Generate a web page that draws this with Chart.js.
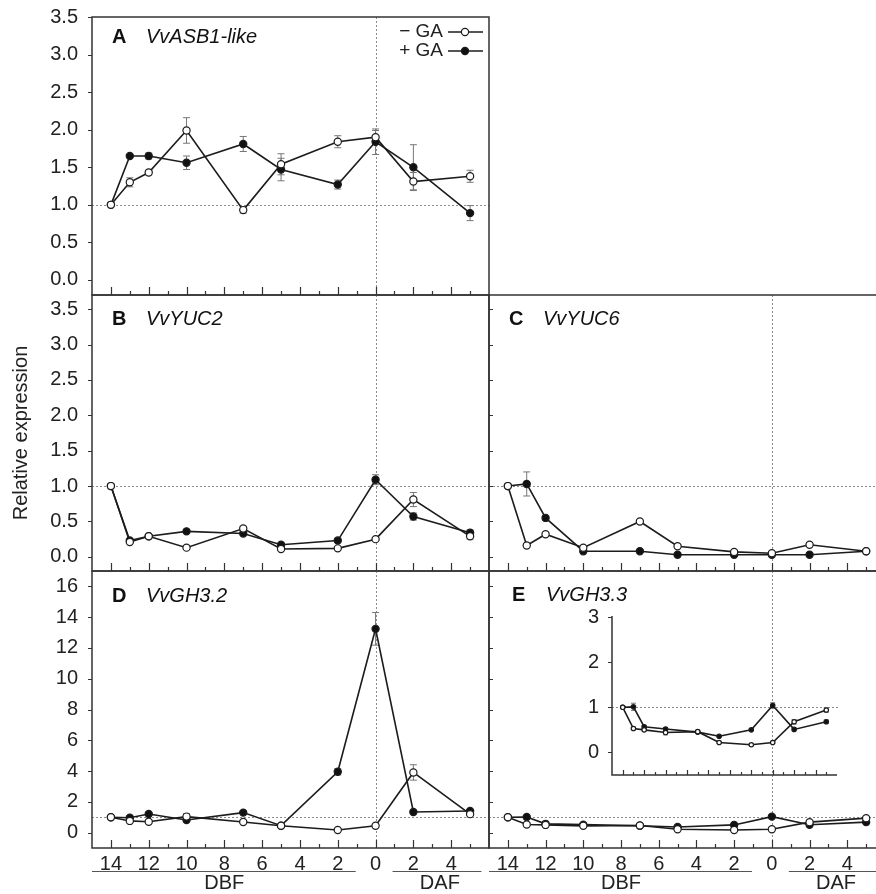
<!DOCTYPE html>
<html>
<head>
<meta charset="utf-8">
<script src="https://cdn.jsdelivr.net/npm/chart.js@4.4.1/dist/chart.umd.min.js"></script>
<style>
  html, body { margin: 0; padding: 0; background: #fff; overflow: hidden; }
  #fig { position: relative; width: 876px; height: 894px; overflow: hidden; }
  canvas { position: absolute; }
</style>
</head>
<body>
<div id="fig">
  <canvas id="cA" width="490" height="297" style="left:0;top:0"></canvas>
  <canvas id="cB" width="490" height="293" style="left:0;top:280px"></canvas>
  <canvas id="cC" width="420" height="293" style="left:475px;top:280px"></canvas>
  <canvas id="cD" width="490" height="339" style="left:0;top:555px"></canvas>
  <canvas id="cE" width="420" height="339" style="left:475px;top:555px"></canvas>
  <canvas id="cInset" width="280" height="176" style="left:560px;top:600px"></canvas>
</div>
<script>
// sampling days (negative = days before flowering)
const days = [-14, -13, -12, -10, -7, -5, -2, 0, 2, 5];
const xTickValues = [-14, -12, -10, -8, -6, -4, -2, 0, 2, 4];
const xTickLabels = ["14", "12", "10", "8", "6", "4", "2", "0", "2", "4"];
const yTicksLow = [0, 0.5, 1, 1.5, 2, 2.5, 3, 3.5];
const yTicksHigh = [0, 2, 4, 6, 8, 10, 12, 14, 16];
const yTicksInset = [0, 1, 2, 3];

// A VvASB1-like
const asb1Minus = [1.0, 1.30, 1.43, 1.99, 0.93, 1.54, 1.84, 1.90, 1.31, 1.38];
const asb1MinusErr = [0, 0.06, 0.03, 0.17, 0.04, 0.14, 0.08, 0.09, 0.12, 0.08];
const asb1Plus = [1.0, 1.65, 1.65, 1.56, 1.81, 1.47, 1.27, 1.84, 1.50, 0.89];
const asb1PlusErr = [0, 0.02, 0.04, 0.09, 0.10, 0.15, 0.06, 0.17, 0.30, 0.10];

// B VvYUC2
const yuc2Minus = [1.0, 0.21, 0.29, 0.13, 0.40, 0.11, 0.12, 0.25, 0.81, 0.29];
const yuc2MinusErr = [0, 0.02, 0.02, 0.02, 0.02, 0.02, 0.02, 0.02, 0.10, 0.04];
const yuc2Plus = [1.0, 0.23, 0.29, 0.36, 0.33, 0.17, 0.23, 1.09, 0.57, 0.34];
const yuc2PlusErr = [0, 0.02, 0.02, 0.03, 0.02, 0.02, 0.02, 0.07, 0.05, 0.04];

// C VvYUC6
const yuc6Minus = [1.0, 0.16, 0.32, 0.13, 0.50, 0.15, 0.07, 0.05, 0.17, 0.08];
const yuc6MinusErr = [0, 0.01, 0.02, 0.01, 0.01, 0.01, 0.01, 0.01, 0.01, 0.01];
const yuc6Plus = [1.0, 1.03, 0.55, 0.08, 0.08, 0.03, 0.03, 0.03, 0.03, 0.08];
const yuc6PlusErr = [0, 0.17, 0.03, 0, 0, 0, 0, 0, 0, 0];

// D VvGH3.2
const gh32Minus = [1.0, 0.76, 0.71, 1.04, 0.69, 0.45, 0.17, 0.45, 3.91, 1.20];
const gh32MinusErr = [0, 0.1, 0.1, 0.2, 0.1, 0.05, 0.05, 0.05, 0.5, 0.2];
const gh32Plus = [1.0, 0.97, 1.21, 0.82, 1.30, 0.45, 3.95, 13.24, 1.34, 1.40];
const gh32PlusErr = [0, 0.1, 0.1, 0.1, 0.1, 0.05, 0.2, 1.06, 0.1, 0.1];

// E VvGH3.3
const gh33Minus = [1.0, 0.53, 0.50, 0.44, 0.46, 0.22, 0.17, 0.22, 0.68, 0.94];
const gh33MinusErr = [0, 0.03, 0.03, 0.05, 0.03, 0.02, 0.02, 0.02, 0.05, 0.05];
const gh33Plus = [1.0, 1.01, 0.57, 0.52, 0.45, 0.36, 0.50, 1.04, 0.51, 0.68];
const gh33PlusErr = [0, 0.08, 0.03, 0.03, 0.02, 0.02, 0.02, 0.06, 0.03, 0.04];

Chart.defaults.font.family = "'Liberation Sans', Arial, Helvetica, sans-serif";
Chart.defaults.color = "#222";

const INK = "#1c1c1c";

const panelDecor = {
  id: "panelDecor",
  beforeDatasetsDraw(chart, args, o) {
    const { ctx, chartArea: a, scales: { x, y } } = chart;
    ctx.save();
    // dotted reference lines
    ctx.strokeStyle = "#8c8c8c";
    ctx.lineWidth = 1;
    ctx.setLineDash([2, 2]);
    ctx.beginPath();
    const y1 = Math.round(y.getPixelForValue(1)) + 0.5;
    ctx.moveTo(a.left, y1);
    ctx.lineTo(a.right + (o.refExtra || 0), y1);
    if (!o.inset) {
      const x0 = Math.round(x.getPixelForValue(0)) + 0.5;
      ctx.moveTo(x0, a.top);
      ctx.lineTo(x0, a.bottom);
    }
    ctx.stroke();
    ctx.setLineDash([]);
    // error bars
    ctx.strokeStyle = "#777";
    ctx.lineWidth = 1;
    chart.data.datasets.forEach((ds, i) => {
      const err = o.errors[i];
      ds.data.forEach((p, j) => {
        if (!err[j]) return;
        const px = x.getPixelForValue(p.x);
        const t = y.getPixelForValue(p.y + err[j]);
        const b = y.getPixelForValue(p.y - err[j]);
        ctx.beginPath();
        ctx.moveTo(px, t); ctx.lineTo(px, b);
        ctx.moveTo(px - o.cap, t); ctx.lineTo(px + o.cap, t);
        ctx.moveTo(px - o.cap, b); ctx.lineTo(px + o.cap, b);
        ctx.stroke();
      });
    });
    ctx.restore();
  },
  afterDraw(chart, args, o) {
    const { ctx, chartArea: a, scales: { x, y } } = chart;
    ctx.save();
    ctx.strokeStyle = "#333";
    ctx.lineWidth = 1.5;
    // frame
    ctx.beginPath();
    if (o.inset) {
      ctx.moveTo(a.left, a.top - 1);
      ctx.lineTo(a.left, a.bottom);
      ctx.lineTo(a.right, a.bottom);
    } else {
      ctx.rect(a.left, a.top, a.right - a.left, a.bottom - a.top);
    }
    ctx.stroke();
    // x ticks, pointing up into the panel
    ctx.lineWidth = 1.2;
    ctx.beginPath();
    for (let d = -14; d <= 5; d++) {
      const px = Math.round(x.getPixelForValue(d)) + 0.5;
      const len = d % 2 === 0 ? o.tickMajor : o.tickMinor;
      ctx.moveTo(px, a.bottom);
      ctx.lineTo(px, a.bottom - len);
    }
    // y ticks
    o.yTicks.forEach(v => {
      const py = Math.round(y.getPixelForValue(v)) + 0.5;
      ctx.moveTo(a.left, py);
      ctx.lineTo(a.left + (o.tickIn ? 4 : -4), py);
    });
    ctx.stroke();
    // panel label
    if (o.letter) {
      ctx.fillStyle = "#111";
      ctx.textBaseline = "middle";
      ctx.textAlign = "left";
      ctx.font = "bold 20px 'Liberation Sans', Arial, sans-serif";
      ctx.fillText(o.letter, a.left + o.labelDx, a.top + o.labelDy);
      ctx.font = "italic 20px 'Liberation Sans', Arial, sans-serif";
      ctx.fillText(o.gene, a.left + o.labelDx + 34, a.top + o.labelDy);
    }
    // legend
    if (o.legend) {
      ctx.font = "19px 'Liberation Sans', Arial, sans-serif";
      ctx.textBaseline = "middle";
      ctx.textAlign = "right";
      const lx = a.right - 46;
      chart.data.datasets.forEach((ds, i) => {
        const ly = a.top + 15 + i * 19;
        ctx.fillStyle = "#222";
        ctx.fillText(ds.label, lx, ly);
        ctx.strokeStyle = INK;
        ctx.lineWidth = 1.5;
        ctx.beginPath();
        ctx.moveTo(lx + 5, ly); ctx.lineTo(lx + 40, ly);
        ctx.stroke();
        ctx.beginPath();
        ctx.arc(lx + 22, ly, 3.6, 0, Math.PI * 2);
        ctx.fillStyle = ds.pointBackgroundColor;
        ctx.fill();
        ctx.lineWidth = 1.2;
        ctx.stroke();
      });
    }
    // DBF / DAF groupings under the axis
    if (o.groups) {
      ctx.strokeStyle = "#555";
      ctx.lineWidth = 1;
      ctx.fillStyle = "#222";
      ctx.font = "20px 'Liberation Sans', Arial, sans-serif";
      ctx.textAlign = "center";
      ctx.textBaseline = "middle";
      o.groups.forEach(g => {
        const x1 = x.getPixelForValue(g.from), x2 = x.getPixelForValue(g.to);
        ctx.beginPath();
        ctx.moveTo(x1, a.bottom + 23.5); ctx.lineTo(x2, a.bottom + 23.5);
        ctx.stroke();
        ctx.fillText(g.text, x.getPixelForValue(g.at), a.bottom + 35);
      });
    }
    ctx.restore();
  }
};

const groups = [
  { text: "DBF", from: -15, to: -1.05, at: -8 },
  { text: "DAF", from: 0.9, to: 5.6, at: 3.4 }
];

function makePanel(id, p) {
  const pt = p.radius || 3.6;
  return new Chart(document.getElementById(id), {
    type: "line",
    data: {
      datasets: [
        {
          label: "\u2212 GA",
          data: days.map((d, i) => ({ x: d, y: p.minus[i] })),
          borderColor: INK,
          borderWidth: p.lineWidth || 1.6,
          pointRadius: pt,
          pointBackgroundColor: "#ffffff",
          pointBorderColor: INK,
          pointBorderWidth: 1.2,
          tension: 0
        },
        {
          label: "+ GA",
          data: days.map((d, i) => ({ x: d, y: p.plus[i] })),
          borderColor: INK,
          borderWidth: p.lineWidth || 1.6,
          pointRadius: pt,
          pointBackgroundColor: "#111111",
          pointBorderColor: INK,
          pointBorderWidth: 1.2,
          tension: 0
        }
      ]
    },
    options: {
      responsive: false,
      animation: false,
      devicePixelRatio: 1,
      events: [],
      layout: { padding: p.padding, autoPadding: false },
      plugins: {
        legend: { display: false },
        tooltip: { enabled: false },
        panelDecor: {
          errors: [p.minusErr, p.plusErr],
          yTicks: p.yTicks,
          tickIn: !p.showY,
          tickMajor: p.inset ? 5 : 8,
          tickMinor: p.inset ? 3 : 4,
          cap: p.inset ? 2.5 : 3.5,
          letter: p.letter,
          gene: p.gene,
          labelDx: p.labelDx || 20,
          labelDy: p.labelDy || 22,
          legend: p.legend,
          groups: p.showX ? groups : null,
          inset: p.inset,
          refExtra: p.inset ? 10 : 0
        }
      },
      scales: {
        x: {
          type: "linear",
          min: -15,
          max: 6,
          display: !!p.showX,
          grid: { display: false, drawTicks: false },
          border: { display: false },
          afterBuildTicks: s => { s.ticks = xTickValues.map(v => ({ value: v })); },
          afterFit: s => {
            if (!p.showX) return;
            s.height = 46; s.paddingLeft = 0; s.paddingRight = 0;
          },
          ticks: {
            autoSkip: false,
            maxRotation: 0,
            padding: 4,
            font: { size: 20 },
            callback: (v, i) => xTickLabels[i]
          }
        },
        y: {
          type: "linear",
          min: p.yMin,
          max: p.yMax,
          display: !!p.showY,
          grid: { display: false, drawTicks: false },
          border: { display: false },
          afterBuildTicks: s => { s.ticks = p.yTicks.map(v => ({ value: v })); },
          afterFit: s => {
            if (!p.showY) return;
            s.width = p.yWidth || 92; s.paddingTop = 0; s.paddingBottom = 0;
          },
          title: {
            display: !!p.yTitle,
            text: p.yTitle || "",
            font: { size: 20 },
            color: "#222",
            padding: { top: 9, bottom: 0 }
          },
          ticks: {
            padding: p.yPad || 14,
            font: { size: 20 },
            callback: v => v.toFixed(p.yDec)
          }
        }
      }
    },
    plugins: [panelDecor]
  });
}

makePanel("cA", {
  minus: asb1Minus, plus: asb1Plus, minusErr: asb1MinusErr, plusErr: asb1PlusErr,
  yMin: -0.2, yMax: 3.5, yTicks: yTicksLow, yDec: 1, showY: true,
  letter: "A", gene: "VvASB1-like", legend: true, labelDy: 20,
  padding: { top: 17, right: 1, bottom: 2, left: 0 }
});
makePanel("cB", {
  minus: yuc2Minus, plus: yuc2Plus, minusErr: yuc2MinusErr, plusErr: yuc2PlusErr,
  yMin: -0.2, yMax: 3.7, yTicks: yTicksLow, yDec: 1, showY: true,
  letter: "B", gene: "VvYUC2", yTitle: "Relative expression", labelDy: 24,
  padding: { top: 15, right: 1, bottom: 2, left: 0 }
});
makePanel("cC", {
  minus: yuc6Minus, plus: yuc6Plus, minusErr: yuc6MinusErr, plusErr: yuc6PlusErr,
  yMin: -0.2, yMax: 3.7, yTicks: yTicksLow, yDec: 1, showY: false,
  letter: "C", gene: "VvYUC6", labelDy: 24,
  padding: { top: 15, right: 10, bottom: 2, left: 14 }
});
makePanel("cD", {
  minus: gh32Minus, plus: gh32Plus, minusErr: gh32MinusErr, plusErr: gh32PlusErr,
  yMin: -1, yMax: 17, yTicks: yTicksHigh, yDec: 0, showY: true, showX: true,
  letter: "D", gene: "VvGH3.2", labelDy: 25,
  padding: { top: 16, right: 1, bottom: 0, left: 0 }
});
makePanel("cE", {
  minus: gh33Minus, plus: gh33Plus, minusErr: gh33MinusErr, plusErr: gh33PlusErr,
  yMin: -1, yMax: 17, yTicks: yTicksHigh, yDec: 0, showY: false, showX: true,
  letter: "E", gene: "VvGH3.3", labelDx: 23, labelDy: 24,
  padding: { top: 16, right: 10, bottom: 0, left: 14 }
});
makePanel("cInset", {
  minus: gh33Minus, plus: gh33Plus, minusErr: gh33MinusErr, plusErr: gh33PlusErr,
  yMin: -0.5, yMax: 3, yTicks: yTicksInset, yDec: 0, showY: true, inset: true,
  yWidth: 52, yPad: 13, radius: 2.2, lineWidth: 1.6,
  padding: { top: 17, right: 3, bottom: 1, left: 0 }
});
</script>
</body>
</html>
